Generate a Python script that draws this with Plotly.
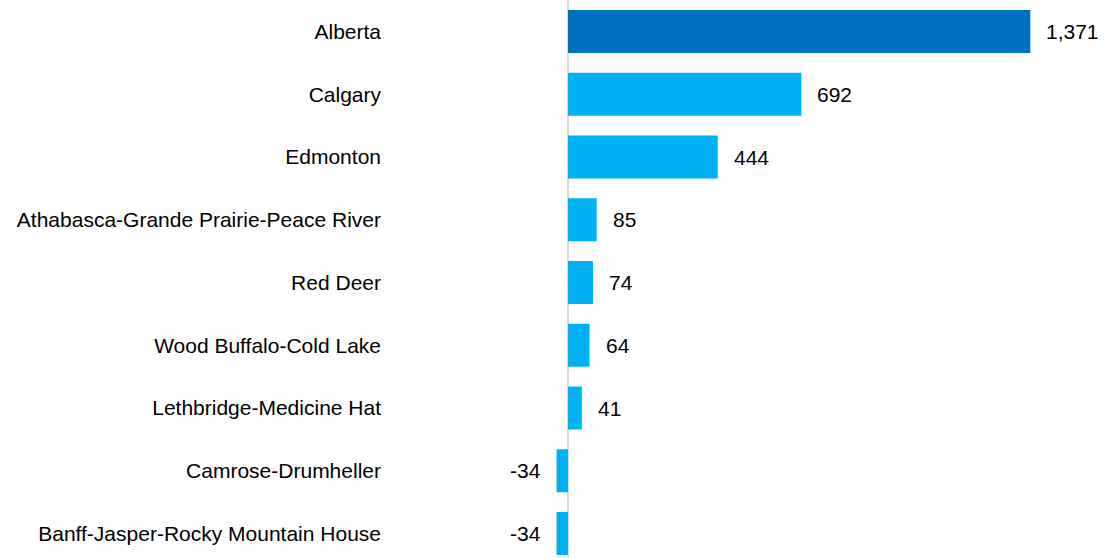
import plotly.graph_objects as go

categories = ["Alberta", "Calgary", "Edmonton", "Athabasca-Grande Prairie-Peace River",
              "Red Deer", "Wood Buffalo-Cold Lake", "Lethbridge-Medicine Hat",
              "Camrose-Drumheller", "Banff-Jasper-Rocky Mountain House"]
values = [1371, 692, 444, 85, 74, 64, 41, -34, -34]
value_labels = ["1,371", "692", "444", "85", "74", "64", "41", "-34", "-34"]
colors = ["#0070C0"] + ["#00B0F0"] * 8

W, H = 1106, 558
left_px, zero_px, alb_end_px = 390, 568, 1030.3
k = (alb_end_px - zero_px) / max(values)
x_range = [-(zero_px - left_px) / k, (W - zero_px) / k]
FONT = "Liberation Sans, Arial"
FS = 21

fig = go.Figure(go.Bar(
    x=values, y=categories, orientation="h",
    marker=dict(color=colors, line=dict(width=0)),
    width=0.685,
    hoverinfo="skip",
))

annotations = []
for c, v, t in zip(categories, values, value_labels):
    annotations.append(dict(
        x=v, y=c, text=t, showarrow=False,
        xanchor="left" if v >= 0 else "right",
        xshift=14 if v >= 0 else -14,
        font=dict(family=FONT, size=FS, color="#000000"),
    ))

fig.update_layout(
    width=W, height=H,
    margin=dict(l=left_px, r=0, t=0, b=0),
    paper_bgcolor="white", plot_bgcolor="white",
    showlegend=False,
    annotations=annotations,
    xaxis=dict(range=x_range, showgrid=False, showticklabels=False,
               zeroline=True, zerolinecolor="#d9d9d9", zerolinewidth=2,
               fixedrange=True),
    yaxis=dict(range=[8.39, -0.502], showgrid=False, zeroline=False,
               ticks="", ticklabelstandoff=8,
               tickfont=dict(family=FONT, size=FS, color="#000000"),
               automargin=False, fixedrange=True),
    font=dict(family=FONT, size=FS, color="#000000"),
)

fig.write_html("out.html", config={"displayModeBar": False},
               post_script="document.body.style.margin='0';document.body.style.overflow='hidden';")
